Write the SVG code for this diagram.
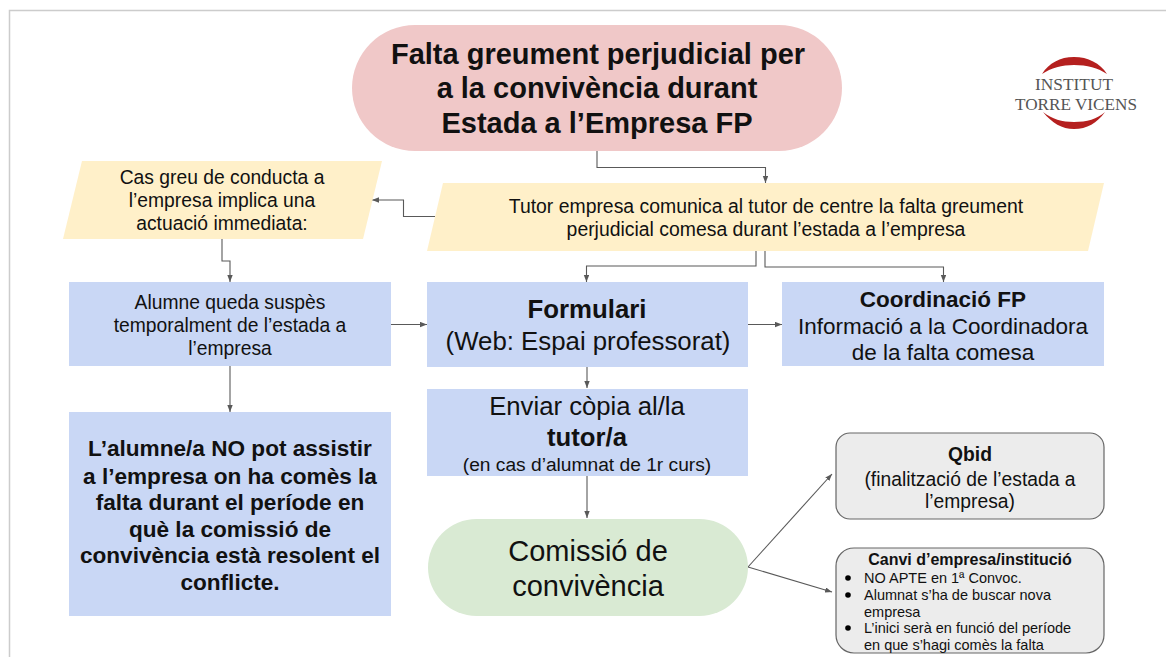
<svg xmlns="http://www.w3.org/2000/svg" width="1166" height="657" viewBox="0 0 1166 657">
<style>
text{font-family:"Liberation Sans",Arial,sans-serif;fill:#111;text-anchor:middle}
.b{font-weight:bold}
.l{text-anchor:start}
.blue{fill:#c9d7f5}
.yel{fill:#fff0c9}
.gr{fill:#ececec;stroke:#666;stroke-width:1.2}
.c{fill:none;stroke:#595959;stroke-width:1.1;marker-end:url(#a)}
.logo{font-family:"Liberation Serif",serif;fill:#555}
</style>
<defs>
<marker id="a" markerUnits="userSpaceOnUse" markerWidth="8" markerHeight="6" refX="7" refY="2.700" orient="auto"><path d="M0 0L7 2.700L0 5.400Z" fill="#595959"/></marker>
</defs>
<rect width="1166" height="657" fill="#fff"/>
<path d="M9.500 657V10.500H1166" fill="none" stroke="#cccccc" stroke-width="1.500"/>
<g id="connectors">
<path class="c" d="M597 150V167.500H765.500V183"/>
<path class="c" d="M435 216.500H403.500V200H372"/>
<path class="c" d="M222 239V261H230V282"/>
<path class="c" d="M756 250V266H586.500V282"/>
<path class="c" d="M765 250V267H943.500V282"/>
<path class="c" d="M390 324.500H427"/>
<path class="c" d="M748 324.500H782"/>
<path class="c" d="M587 367V388"/>
<path class="c" d="M230 366V412"/>
<path class="c" d="M587 476V518"/>
<path class="c" d="M748 567L832 474"/>
<path class="c" d="M748 567L832 592"/>
</g>
<g id="n-title">
<rect x="352" y="25" width="490" height="126" rx="63" fill="#f0c8c8"/>
<text class="b" x="598" y="64" font-size="29">Falta greument perjudicial per</text>
<text class="b" x="597" y="98" font-size="29">a la convivència durant</text>
<text class="b" x="597" y="133" font-size="29">Estada a l’Empresa FP</text>
</g>
<g id="n-cas">
<path class="yel" d="M82 161H382L363 239H63Z"/>
<text x="222" y="184" font-size="19.300">Cas greu de conducta a</text>
<text x="222" y="207" font-size="19.300">l’empresa implica una</text>
<text x="222" y="230" font-size="19.300">actuació immediata:</text>
</g>
<g id="n-tutor">
<path class="yel" d="M443 183H1104L1088 251H427Z"/>
<text x="766" y="213" font-size="19.400">Tutor empresa comunica al tutor de centre la falta greument</text>
<text x="766" y="236" font-size="19.400">perjudicial comesa durant l’estada a l’empresa</text>
</g>
<g id="n-alumne">
<rect class="blue" x="69" y="282" width="322" height="84"/>
<text x="230" y="309" font-size="19.300">Alumne queda suspès</text>
<text x="230" y="332" font-size="19.300">temporalment de l’estada a</text>
<text x="230" y="355" font-size="19.300">l’empresa</text>
</g>
<g id="n-formulari">
<rect class="blue" x="427" y="282" width="321" height="85"/>
<text class="b" x="587" y="318" font-size="25.800">Formulari</text>
<text x="588" y="350" font-size="25.800">(Web: Espai professorat)</text>
</g>
<g id="n-coord">
<rect class="blue" x="782" y="282" width="322" height="84"/>
<text class="b" x="943" y="307" font-size="22.500">Coordinació FP</text>
<text x="943" y="334" font-size="22.500">Informació a la Coordinadora</text>
<text x="943" y="360" font-size="22.500">de la falta comesa</text>
</g>
<g id="n-enviar">
<rect class="blue" x="427" y="389" width="321" height="87"/>
<text x="587" y="415" font-size="25.700">Enviar còpia al/la</text>
<text class="b" x="587" y="446" font-size="25.700">tutor/a</text>
<text x="587" y="471" font-size="19.200">(en cas d’alumnat de 1r curs)</text>
</g>
<g id="n-noassistir">
<rect class="blue" x="69" y="412" width="322" height="204"/>
<text class="b" x="230" y="456" font-size="22.600">L’alumne/a NO pot assistir</text>
<text class="b" x="230" y="484" font-size="22.600">a l’empresa on ha comès la</text>
<text class="b" x="230" y="510" font-size="22.600">falta durant el període en</text>
<text class="b" x="230" y="537" font-size="22.600">què la comissió de</text>
<text class="b" x="230" y="563" font-size="22.600">convivència està resolent el</text>
<text class="b" x="230" y="590" font-size="22.600">conflicte.</text>
</g>
<g id="n-comissio">
<rect x="428" y="519" width="320" height="97" rx="48.500" fill="#d9ead3"/>
<text x="588" y="561" font-size="29">Comissió de</text>
<text x="588" y="596" font-size="29">convivència</text>
</g>
<g id="n-qbid">
<rect class="gr" x="836" y="433" width="268" height="86" rx="14"/>
<text class="b" x="970" y="461" font-size="19.300">Qbid</text>
<text x="970" y="486" font-size="19.300">(finalització de l’estada a</text>
<text x="970" y="508" font-size="19.300">l’empresa)</text>
</g>
<g id="n-canvi">
<rect class="gr" x="836" y="548" width="268" height="105" rx="18"/>
<text class="b" x="970" y="565" font-size="16">Canvi d’empresa/institució</text>
<circle cx="848" cy="578" r="2.800"/>
<circle cx="848" cy="595" r="2.800"/>
<circle cx="848" cy="628" r="2.800"/>
<text class="l" x="864" y="583" font-size="14.500">NO APTE en 1ª Convoc.</text>
<text class="l" x="864" y="600" font-size="14.500">Alumnat s’ha de buscar nova</text>
<text class="l" x="864" y="617" font-size="14.500">empresa</text>
<text class="l" x="864" y="633" font-size="14.500">L’inici serà en funció del període</text>
<text class="l" x="864" y="650" font-size="14.500">en que s’hagi comès la falta</text>
</g>
<g id="logo">
<path d="M1042 74C1049 63 1060 57 1074 57C1088 57 1100 63 1107 74C1098 68 1087 65 1074 65C1062 65 1051 68 1042 74Z" fill="#b5201f"/>
<path d="M1043 112C1052 123 1062 129 1074 129C1087 129 1097 123 1105 112C1097 119 1087 122 1074 122C1062 122 1052 119 1043 112Z" fill="#b5201f"/>
<text class="logo" x="1074" y="90" font-size="16.800" textLength="78" lengthAdjust="spacingAndGlyphs">INSTITUT</text>
<text class="logo" x="1076" y="110" font-size="16.800" textLength="122" lengthAdjust="spacingAndGlyphs">TORRE VICENS</text>
</g>
</svg>
